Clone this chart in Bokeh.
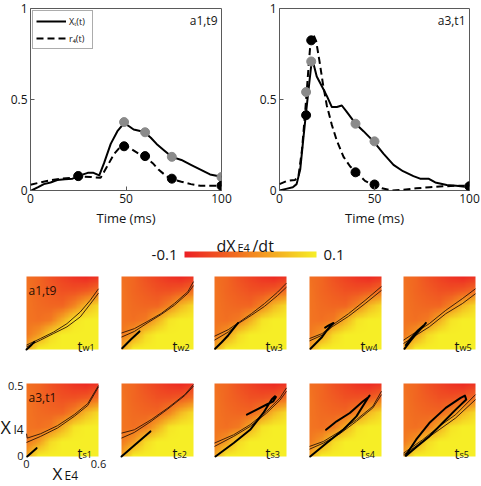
import numpy as np
from bokeh.plotting import figure
from bokeh.models import Range1d, FixedTicker, Legend, LegendItem, LinearColorMapper
from bokeh.core.properties import value
from bokeh.layouts import column, row
from bokeh.embed import file_html
from bokeh.resources import INLINE

# ---------------- data: top time courses ----------------
time_ticks = [0, 50, 100]
time_tick_labels = ["0", "50", "100"]
value_ticks = [0, 0.5, 1]
value_tick_labels = ["0", "0.5", "1"]

# a1,t9
t_xt_a1 = [0.5, 4, 7, 10.5, 14, 18, 22, 26, 30, 33, 36, 38.5, 42, 45.5, 49, 51.6, 54, 58, 60,
           63, 66, 70, 74, 79, 84, 89, 94, 100]
xt_a1 = [0, 0.018, 0.035, 0.044, 0.058, 0.062, 0.065, 0.083, 0.097, 0.097, 0.083, 0.15, 0.256,
         0.326, 0.37, 0.353, 0.335, 0.326, 0.317, 0.29, 0.256, 0.22, 0.185, 0.168, 0.141, 0.115,
         0.088, 0.076]
t_r_a1 = [0, 5, 10.5, 16, 21, 26, 31.5, 36.7, 40, 43.7, 47, 50, 53, 57, 60, 64, 67, 71, 74, 79,
          84, 89, 94, 100]
r_a1 = [0.032, 0.044, 0.056, 0.065, 0.069, 0.076, 0.074, 0.07, 0.13, 0.2, 0.24, 0.247, 0.226,
        0.2, 0.185, 0.15, 0.115, 0.08, 0.062, 0.048, 0.035, 0.026, 0.026, 0.026]
tw_times = [25, 49, 60, 74, 100]
tw_xt = [0.08, 0.376, 0.32, 0.185, 0.074]
tw_r = [0.079, 0.243, 0.189, 0.065, 0.026]

# a3,t1
t_xt_a3 = [0, 3.5, 7, 9, 10.9, 12.6, 14, 15.3, 16.7, 17.9, 19.6, 22.3, 24.9, 27.5, 30.2, 32.8,
           35.4, 39.8, 44.2, 49.5, 54.7, 60, 65, 70.5, 74, 78.4, 82, 88, 93, 100]
xt_a3 = [0, 0.009, 0.018, 0.035, 0.115, 0.29, 0.43, 0.556, 0.688, 0.697, 0.626, 0.573, 0.52,
         0.459, 0.459, 0.467, 0.432, 0.37, 0.326, 0.27, 0.203, 0.141, 0.106, 0.079, 0.065, 0.065,
         0.044, 0.03, 0.026, 0.018]
t_r_a3 = [0, 3.9, 8.2, 10, 11.8, 13.5, 15.3, 16.5, 17.9, 19.3, 21, 22.8, 24.9, 27.5, 30.2, 33.7,
          37.2, 40.7, 45, 49.5, 53.9, 59, 65, 72, 79, 86, 93, 100]
r_a3 = [0.035, 0.053, 0.058, 0.08, 0.22, 0.43, 0.68, 0.838, 0.855, 0.82, 0.714, 0.59, 0.467,
        0.362, 0.273, 0.185, 0.132, 0.097, 0.053, 0.03, 0.012, 0.0, 0.004, 0.012, 0.018, 0.023,
        0.026, 0.026]
ts_times = [14, 16.7, 40, 50, 100]
ts_xt = [0.541, 0.709, 0.367, 0.27, 0.023]
ts_r = [0.414, 0.825, 0.1, 0.033, 0.023]

# ---------------- data: dX_E4/dt field (coarse grid) ----------------
cb_low, cb_high = -0.1, 0.1
cb_tick_labels = ["-0.1", "0.1"]
field_xe = [0, 0.1, 0.2, 0.3, 0.4, 0.5, 0.6]
field_xi = [0, 0.1, 0.2, 0.3, 0.4, 0.5]
field_vals = [
    [0.03, 0.10, 0.10, 0.10, 0.10, 0.10, 0.10],
    [-0.01, 0.02, 0.08, 0.10, 0.10, 0.10, 0.10],
    [-0.015, -0.02, -0.01, 0.04, 0.09, 0.10, 0.10],
    [-0.015, -0.025, -0.03, -0.03, 0.0, 0.05, 0.08],
    [-0.015, -0.03, -0.04, -0.05, -0.05, -0.04, -0.02],
    [-0.02, -0.03, -0.05, -0.065, -0.08, -0.09, -0.08],
]
xe_ticks = [0, 0.6]
xe_tick_labels = ["0", "0.6"]
xi_ticks = [0, 0.5]
xi_tick_labels = ["0", "0.5"]

# ---------------- data: phase-plane panels (X_E4, X_I4) ----------------
tw1_ncA = [(0, 0.03), (0.116, 0.075), (0.227, 0.12), (0.337, 0.177), (0.448, 0.257), (0.53, 0.336), (0.6, 0.416)]
tw1_ncB = [(0, 0.018), (0.116, 0.064), (0.227, 0.11), (0.337, 0.155), (0.448, 0.223), (0.53, 0.31), (0.6, 0.386)]
tw1_traj = [(0, 0), (0.03, 0.022), (0.066, 0.052)]

tw2_ncA = [(0, 0.113), (0.108, 0.143), (0.22, 0.194), (0.331, 0.247), (0.442, 0.316), (0.553, 0.396), (0.6, 0.465)]
tw2_ncB = [(0, 0.085), (0.108, 0.124), (0.22, 0.184), (0.331, 0.24), (0.442, 0.304), (0.553, 0.385), (0.6, 0.438)]
tw2_traj = [(0.006, 0.009), (0.08, 0.07), (0.15, 0.124)]

tw3_ncA = [(0, 0.091), (0.115, 0.136), (0.197, 0.182), (0.307, 0.245), (0.416, 0.314), (0.526, 0.393), (0.6, 0.455)]
tw3_ncB = [(0, 0.064), (0.115, 0.12), (0.197, 0.177), (0.307, 0.234), (0.416, 0.295), (0.526, 0.37), (0.6, 0.427)]
tw3_traj = [(0.005, 0.005), (0.06, 0.05), (0.115, 0.098), (0.17, 0.155), (0.197, 0.182)]

tw4_ncA = [(0, 0.075), (0.105, 0.109), (0.188, 0.166), (0.325, 0.245), (0.463, 0.336), (0.6, 0.432)]
tw4_ncB = [(0, 0.059), (0.105, 0.098), (0.188, 0.155), (0.325, 0.227), (0.463, 0.314), (0.6, 0.405)]
tw4_traj = [(0.008, 0.005), (0.105, 0.086), (0.146, 0.132), (0.2, 0.182), (0.16, 0.165), (0.13, 0.15)]

tw5_ncA = [(0, 0.064), (0.105, 0.12), (0.215, 0.177), (0.352, 0.268), (0.49, 0.348), (0.6, 0.416)]
tw5_ncB = [(0, 0.041), (0.105, 0.098), (0.215, 0.155), (0.352, 0.245), (0.49, 0.314), (0.6, 0.382)]
tw5_traj = [(0.008, 0.005), (0.06, 0.06), (0.12, 0.12), (0.17, 0.165), (0.187, 0.182), (0.175, 0.17),
            (0.12, 0.13), (0.06, 0.075), (0.02, 0.03)]

ts1_ncA = [(0, 0.156), (0.006, 0.126), (0.118, 0.156), (0.258, 0.211), (0.398, 0.287), (0.51, 0.362), (0.6, 0.486)]
ts1_ncB = [(0, 0.096), (0.118, 0.138), (0.258, 0.195), (0.398, 0.275), (0.51, 0.349), (0.6, 0.477)]
ts1_traj = [(0.006, 0), (0.084, 0.057)]

ts2_ncA = [(0, 0.16), (0.107, 0.183), (0.247, 0.252), (0.387, 0.333), (0.527, 0.424), (0.6, 0.493)]
ts2_ncB = [(0, 0.126), (0.107, 0.165), (0.247, 0.241), (0.387, 0.326), (0.527, 0.417), (0.6, 0.482)]
ts2_traj = [(0, 0), (0.12, 0.085), (0.241, 0.172)]

ts3_ncA = [(0, 0.092), (0.16, 0.149), (0.297, 0.218), (0.435, 0.31), (0.545, 0.401), (0.6, 0.47)]
ts3_ncB = [(0, 0.069), (0.16, 0.138), (0.297, 0.206), (0.435, 0.298), (0.545, 0.385), (0.6, 0.447)]
ts3_traj = [(0.008, 0), (0.16, 0.092), (0.297, 0.183), (0.407, 0.298), (0.476, 0.39), (0.504, 0.413),
            (0.512, 0.408), (0.49, 0.378), (0.435, 0.356), (0.352, 0.321), (0.27, 0.287)]

ts4_ncA = [(0, 0.069), (0.116, 0.103), (0.253, 0.172), (0.391, 0.252), (0.528, 0.344), (0.6, 0.447)]
ts4_ncB = [(0, 0.05), (0.116, 0.092), (0.253, 0.156), (0.391, 0.241), (0.528, 0.333), (0.6, 0.424)]
ts4_traj = [(0.006, 0), (0.143, 0.092), (0.281, 0.183), (0.391, 0.275), (0.487, 0.401), (0.501, 0.417),
            (0.49, 0.405), (0.446, 0.378), (0.336, 0.298), (0.226, 0.241), (0.138, 0.183)]

ts5_ncA = [(0, 0.023), (0.16, 0.115), (0.297, 0.206), (0.435, 0.287), (0.6, 0.424)]
ts5_ncB = [(0, 0.011), (0.16, 0.103), (0.297, 0.183), (0.435, 0.264), (0.6, 0.39)]
ts5_traj = [(0.017, 0.005), (0.105, 0.115), (0.215, 0.229), (0.352, 0.333), (0.476, 0.401), (0.512, 0.417),
            (0.523, 0.39), (0.435, 0.321), (0.325, 0.229), (0.215, 0.138), (0.105, 0.064), (0.022, 0.005)]

row1_panels = [("w1", tw1_ncA, tw1_ncB, tw1_traj), ("w2", tw2_ncA, tw2_ncB, tw2_traj),
               ("w3", tw3_ncA, tw3_ncB, tw3_traj), ("w4", tw4_ncA, tw4_ncB, tw4_traj),
               ("w5", tw5_ncA, tw5_ncB, tw5_traj)]
row2_panels = [("s1", ts1_ncA, ts1_ncB, ts1_traj), ("s2", ts2_ncA, ts2_ncB, ts2_traj),
               ("s3", ts3_ncA, ts3_ncB, ts3_traj), ("s4", ts4_ncA, ts4_ncB, ts4_traj),
               ("s5", ts5_ncA, ts5_ncB, ts5_traj)]

# ---------------- styling ----------------
FONT = "Open Sans"
TXT = "#141414"
FRAME = "#5a5a5a"
GRAY_DOT = "#8a8a8a"
NC_COLOR = "#2a1208"


def make_palette(n=256):
    stops = [(0.0, (236, 32, 36)), (0.5, (243, 132, 32)), (1.0, (246, 238, 38))]
    out = []
    for k in range(n):
        f = k / (n - 1)
        for (f0, c0), (f1, c1) in zip(stops[:-1], stops[1:]):
            if f0 <= f <= f1:
                u = (f - f0) / (f1 - f0)
                c = [int(round(a + (b - a) * u)) for a, b in zip(c0, c1)]
                out.append("#%02x%02x%02x" % tuple(c))
                break
    return out


mapper = LinearColorMapper(palette=make_palette(), low=cb_low, high=cb_high)


def smooth_field(vals, xe, xi, n=90):
    v = np.array(vals, dtype=float)
    xs = np.linspace(xe[0], xe[-1], n)
    ys = np.linspace(xi[0], xi[-1], n)
    tmp = np.array([np.interp(xs, xe, r) for r in v])
    return np.array([np.interp(ys, xi, tmp[:, j]) for j in range(n)]).T


field_img = smooth_field(field_vals, field_xe, field_xi)


def txt(p, x, y, s, size, dx=0, dy=0, align="left", baseline="alphabetic", color=TXT):
    p.text(x=[x], y=[y], text=[s], x_offset=dx, y_offset=dy, text_align=align,
           text_baseline=baseline, text_font=value(FONT), text_font_size=value(size),
           text_color=color)


def style_axis(ax, ticks, labels):
    ax.ticker = FixedTicker(ticks=ticks)
    ax.major_label_overrides = {t: l for t, l in zip(ticks, labels)}
    ax.axis_line_color = None
    ax.major_tick_in = 4
    ax.major_tick_out = 0
    ax.major_tick_line_color = FRAME
    ax.minor_tick_line_color = None
    ax.major_label_text_font = FONT
    ax.major_label_text_color = TXT
    ax.major_label_text_font_size = "12px"
    ax.major_label_standoff = 3


def top_plot(width, lb, rb, t_xt, xt, t_r, r, ts, sxt, sr, tag, legend=False):
    p = figure(width=width, height=229, x_range=Range1d(0, 100), y_range=Range1d(0, 1),
               output_backend="svg", toolbar_location=None,
               min_border_left=lb, min_border_right=rb, min_border_top=8, min_border_bottom=35)
    p.grid.visible = False
    p.outline_line_color = FRAME
    p.outline_line_width = 1
    style_axis(p.xaxis[0], time_ticks, time_tick_labels)
    style_axis(p.yaxis[0], value_ticks, value_tick_labels)
    p.xaxis.axis_label = "Time (ms)"
    p.xaxis.axis_label_text_font = FONT
    p.xaxis.axis_label_text_font_style = "normal"
    p.xaxis.axis_label_text_font_size = "13px"
    p.xaxis.axis_label_text_color = TXT
    p.xaxis.axis_label_standoff = 3

    l1 = p.line(t_xt, xt, line_width=2, color="black", line_join="round")
    l2 = p.line(t_r, r, line_width=2, color="black", line_dash="7 4")
    p.scatter(ts, sxt, size=9, color=GRAY_DOT)
    p.scatter(ts, sr, size=9, color="black")
    txt(p, 100, 1, tag, "12px", dx=-4, dy=3, align="right", baseline="top")
    if legend:
        lg = Legend(items=[LegendItem(label="X\u209c(t)", renderers=[l1]),
                           LegendItem(label="r\u2084(t)", renderers=[l2])],
                    location="top_left", margin=2, padding=3, spacing=3,
                    label_text_font=FONT, label_text_font_size="9px", label_text_color=TXT,
                    label_height=14, glyph_height=14, glyph_width=30, label_standoff=3,
                    border_line_color=FRAME, border_line_width=1,
                    background_fill_color="white", background_fill_alpha=1)
        p.add_layout(lg)
    return p


f1 = top_plot(240, 30, 19, t_xt_a1, xt_a1, t_r_a1, r_a1, tw_times, tw_xt, tw_r, "a1,t9", legend=True)
f2 = top_plot(241, 39, 12, t_xt_a3, xt_a3, t_r_a3, r_a3, ts_times, ts_xt, ts_r, "a3,t1")

# ---------------- colorbar strip (frame = whole strip) ----------------
CB_W, CB_H = 481, 37
BAR_X0, BAR_X1, BAR_Y0, BAR_Y1 = 184, 316, 9, 15   # bar position in strip pixels
cb_span = cb_high - cb_low
cb_scale = cb_span / (BAR_X1 - BAR_X0)
cbf = figure(width=CB_W, height=CB_H,
             x_range=Range1d(cb_low - BAR_X0 * cb_scale, cb_high + (CB_W - BAR_X1) * cb_scale),
             y_range=Range1d(0, CB_H), output_backend="svg", toolbar_location=None,
             min_border_left=0, min_border_right=0, min_border_top=0, min_border_bottom=0)
cbf.axis.visible = False
cbf.grid.visible = False
cbf.outline_line_color = None
cb_levels = np.linspace(cb_low, cb_high, 256)
cbf.image(image=[np.array([cb_levels])], x=cb_low, y=BAR_Y0, dw=cb_span, dh=BAR_Y1 - BAR_Y0,
          color_mapper=mapper)
bar_mid_y = (BAR_Y0 + BAR_Y1) / 2
txt(cbf, cb_low, bar_mid_y, cb_tick_labels[0], "15px", dx=-7, align="right", baseline="middle")
txt(cbf, cb_high, bar_mid_y, cb_tick_labels[1], "15px", dx=7, align="left", baseline="middle")
cb_mid = (cb_low + cb_high) / 2
txt(cbf, cb_mid, BAR_Y1, "dX", "16px", dx=-34, dy=-6)
txt(cbf, cb_mid, BAR_Y1, "E4", "11px", dx=-13, dy=-4)
txt(cbf, cb_mid, BAR_Y1, "/dt", "16px", dx=2, dy=-6)

# ---------------- phase-plane panels (frame = whole figure) ----------------
panel_widths = [110, 94, 94, 94, 89]
panel_lb = [26, 11, 10, 11, 11]
PANEL_W, PANEL_H = 72, 73


def phase_panel(i, spec, height, tb, tag=None, axes=False):
    sub, ncA, ncB, traj = spec
    w = panel_widths[i]
    lb = panel_lb[i]
    rb = w - lb - PANEL_W
    bb = height - tb - PANEL_H
    sx = (field_xe[-1] - field_xe[0]) / PANEL_W
    sy = (field_xi[-1] - field_xi[0]) / PANEL_H
    p = figure(width=w, height=height,
               x_range=Range1d(field_xe[0] - lb * sx, field_xe[-1] + rb * sx),
               y_range=Range1d(field_xi[0] - bb * sy, field_xi[-1] + tb * sy),
               output_backend="svg", toolbar_location=None,
               min_border_left=0, min_border_right=0, min_border_top=0, min_border_bottom=0)
    p.grid.visible = False
    p.axis.visible = False
    p.outline_line_color = None
    p.image(image=[field_img], x=field_xe[0], y=field_xi[0], dw=field_xe[-1] - field_xe[0],
            dh=field_xi[-1] - field_xi[0], color_mapper=mapper)
    for nc in (ncA, ncB):
        p.line([a for a, b in nc], [b for a, b in nc], line_width=0.9, color=NC_COLOR)
    p.line([a for a, b in traj], [b for a, b in traj], line_width=2, color="black",
           line_join="round", line_cap="round")
    txt(p, field_xe[-1], field_xi[0], "t", "14px", dx=-21, dy=-3)
    txt(p, field_xe[-1], field_xi[0], sub, "9px", dx=-16, dy=-2)
    if tag:
        txt(p, field_xe[0], field_xi[-1], tag, "12px", dx=2, dy=5, baseline="top", color="#2a0e04")
    if axes:
        for t, l in zip(xe_ticks, xe_tick_labels):
            txt(p, t, field_xi[0], l, "11px", dy=3, align="center", baseline="top")
        for t, l in zip(xi_ticks, xi_tick_labels):
            txt(p, field_xe[0], t, l, "11px", dx=-3, dy=2 if t == xi_ticks[-1] else -1,
                align="right", baseline="middle")
        txt(p, field_xe[0], field_xi[0], "X", "17px", dx=26, dy=17)
        txt(p, field_xe[0], field_xi[0], "E4", "12px", dx=38, dy=19)
        txt(p, field_xe[0], field_xi[-1], "X", "18px", dx=-26, dy=43)
        txt(p, field_xe[0], field_xi[-1], "I4", "12px", dx=-13, dy=46)
    return p


row1 = [phase_panel(i, s, 94, 10, tag="a1,t9" if i == 0 else None) for i, s in enumerate(row1_panels)]
row2 = [phase_panel(i, s, 125, 23, tag="a3,t1" if i == 0 else None, axes=(i == 0))
        for i, s in enumerate(row2_panels)]

layout = column(row(f1, f2), cbf, row(*row1), row(*row2))
open("out.html", "w").write(file_html(layout, INLINE))
